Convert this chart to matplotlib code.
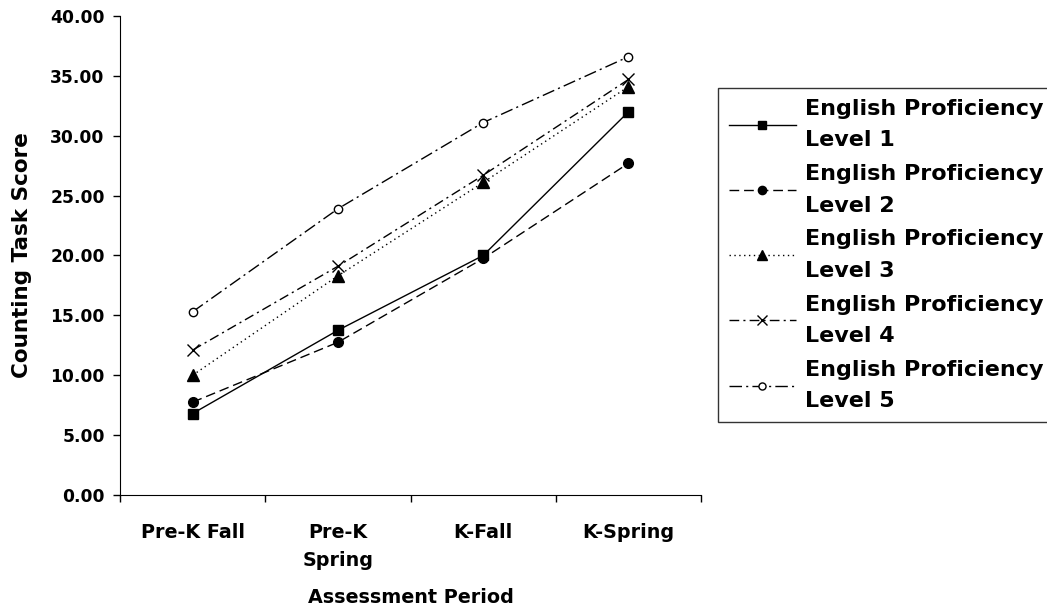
import matplotlib
matplotlib.use("Agg")
import matplotlib.pyplot as plt
from matplotlib.ticker import FixedLocator, NullFormatter

plt.rcParams['font.family'] = ['DejaVu Sans']
plt.rcParams['font.weight'] = 'bold'

periods = ["Pre-K Fall", "Pre-K\nSpring", "K-Fall", "K-Spring"]
level_names = ["English Proficiency\nLevel 1", "English Proficiency\nLevel 2",
               "English Proficiency\nLevel 3", "English Proficiency\nLevel 4",
               "English Proficiency\nLevel 5"]
level1 = [6.8, 13.75, 20.0, 32.0]
level2 = [7.75, 12.75, 19.75, 27.7]
level3 = [10.0, 18.3, 26.1, 34.1]
level4 = [12.1, 19.1, 26.7, 34.7]
level5 = [15.3, 23.9, 31.1, 36.6]
y_ticks = [0, 5, 10, 15, 20, 25, 30, 35, 40]

styles = [
    dict(ls="-", marker="s", ms=7, mfc="black"),
    dict(ls=(0, (7, 3.5)), marker="o", ms=7, mfc="black"),
    dict(ls=(0, (1, 2.5)), marker="^", ms=8, mfc="black"),
    dict(ls=(0, (7, 3, 1.5, 3)), marker="x", ms=8, mfc="black"),
    dict(ls=(0, (9, 3, 1.5, 3)), marker="o", ms=6, mfc="white"),
]

fig = plt.figure(figsize=(10.47, 6.11), dpi=100)
ax = fig.add_axes([0.1146, 0.1899, 0.555, 0.7839])

x = list(range(len(periods)))
for vals, name, st in zip([level1, level2, level3, level4, level5], level_names, styles):
    ax.plot(x, vals, color="black", lw=1, ls=st["ls"], marker=st["marker"],
            ms=st["ms"], mfc=st["mfc"], mec="black", mew=1, label=name)

ax.set_xlim(-0.5, 3.5)
ax.set_ylim(0, 40)
ax.set_yticks(y_ticks)
ax.set_yticklabels(["%.2f" % v for v in y_ticks], fontsize=12.3, fontweight="bold")
ax.set_xticks(x)
ax.set_xticklabels(periods, fontsize=13.8, fontweight="bold", linespacing=1.6)
ax.tick_params(axis="x", which="major", length=0, pad=20)
ax.xaxis.set_minor_locator(FixedLocator([-0.5, 0.5, 1.5, 2.5, 3.5]))
ax.xaxis.set_minor_formatter(NullFormatter())
ax.tick_params(axis="x", which="minor", length=5, direction="out", width=1)
ax.tick_params(axis="y", length=5, direction="out", width=1, pad=6)

ax.spines["top"].set_visible(False)
ax.spines["right"].set_visible(False)
ax.set_xlabel("Assessment Period", fontsize=13.8, fontweight="bold", labelpad=13)
ax.set_ylabel("Counting Task Score", fontsize=15.5, fontweight="bold", labelpad=13)

leg = fig.legend(loc="upper left", bbox_to_anchor=(718 / 1047, 1 - 88 / 611),
                 fontsize=16, frameon=True, fancybox=False, edgecolor="black",
                 handlelength=3.0, handletextpad=0.4, borderpad=0.5,
                 labelspacing=0.62, borderaxespad=0, markerscale=0.85)
leg.get_frame().set_linewidth(1)
for t in leg.get_texts():
    t.set_linespacing(1.71)
    t.set_fontweight("bold")

fig.savefig("out.png", dpi=100)
